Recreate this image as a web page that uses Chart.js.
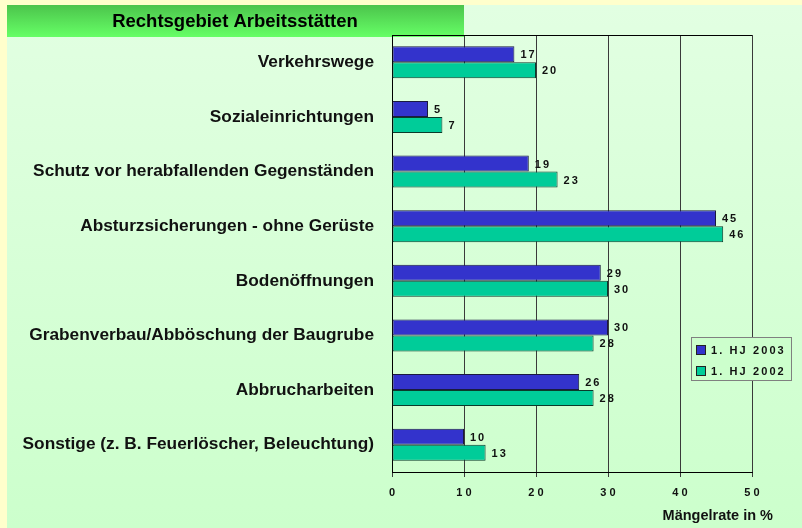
<!DOCTYPE html>
<html>
<head>
<meta charset="utf-8">
<script src="https://cdn.jsdelivr.net/npm/chart.js@4"></script>
<style>
  html, body { margin: 0; padding: 0; background: #ffffcc; }
  #wrap { width: 802px; height: 528px; }
</style>
</head>
<body>
<div id="wrap"><canvas id="barChart" width="802" height="528"></canvas></div>
<script>
var categories = [
    'Verkehrswege',
    'Sozialeinrichtungen',
    'Schutz vor herabfallenden Gegenständen',
    'Absturzsicherungen - ohne Gerüste',
    'Bodenöffnungen',
    'Grabenverbau/Abböschung der Baugrube',
    'Abbrucharbeiten',
    'Sonstige (z. B. Feuerlöscher, Beleuchtung)'
];
var hj2003 = [17, 5, 19, 45, 29, 30, 26, 10];
var hj2002 = [20, 7, 23, 46, 30, 28, 28, 13];
var seriesNames = ['1. HJ 2003', '1. HJ 2002'];
var titleText = 'Rechtsgebiet Arbeitsstätten';
var axisTitle = 'Mängelrate in %';

var FONT = '"Liberation Sans", Arial, sans-serif';

// draw text with spaced characters, like the old office chart
function spacedText(ctx, str, x, y, gap) {
    for (var i = 0; i < str.length; i++) {
        ctx.fillText(str[i], x, y);
        x += ctx.measureText(str[i]).width + gap;
    }
}

var backgroundPlugin = {
    id: 'panelBg',
    beforeDraw: function (chart) {
        var ctx = chart.ctx;
        ctx.save();
        ctx.fillStyle = '#ffffcc';
        ctx.fillRect(0, 0, 802, 528);
        var g = ctx.createLinearGradient(0, 5, 0, 528);
        g.addColorStop(0, '#e2ffe2');
        g.addColorStop(1, '#ccffcc');
        ctx.fillStyle = g;
        ctx.fillRect(7, 5, 795, 523);
        var t = ctx.createLinearGradient(0, 5, 0, 37);
        t.addColorStop(0, '#4cc44c');
        t.addColorStop(1, '#66ff66');
        ctx.fillStyle = t;
        ctx.fillRect(7, 5, 457, 32);
        ctx.fillStyle = '#000';
        ctx.font = 'bold 18.5px ' + FONT;
        ctx.textAlign = 'center';
        ctx.textBaseline = 'middle';
        ctx.fillText(titleText, 235, 22);
        ctx.restore();
    },
    afterDraw: function (chart) {
        var ctx = chart.ctx;
        var area = chart.chartArea;
        ctx.save();
        // top border of plot
        ctx.strokeStyle = '#000';
        ctx.lineWidth = 1;
        ctx.beginPath();
        ctx.moveTo(area.left, area.top + 0.5);
        ctx.lineTo(area.right, area.top + 0.5);
        ctx.stroke();

        // value labels
        ctx.font = 'bold 11px ' + FONT;
        ctx.fillStyle = '#111';
        ctx.textAlign = 'left';
        ctx.textBaseline = 'middle';
        chart.data.datasets.forEach(function (ds, di) {
            chart.getDatasetMeta(di).data.forEach(function (bar, i) {
                spacedText(ctx, String(ds.data[i]), bar.x + 6, bar.y + 1, 2);
            });
        });

        // axis title
        ctx.font = 'bold 14.5px ' + FONT;
        ctx.textAlign = 'right';
        ctx.fillText(axisTitle, 773, 516);

        // legend box
        var lx = 691, ly = 337;
        ctx.fillStyle = '#ccffcc';
        ctx.fillRect(lx, ly, 100, 43);
        ctx.strokeStyle = '#808080';
        ctx.strokeRect(lx + 0.5, ly + 0.5, 100, 43);
        ctx.font = 'bold 11px ' + FONT;
        ctx.textAlign = 'left';
        chart.data.datasets.forEach(function (ds, di) {
            var yy = ly + 13 + di * 21;
            ctx.fillStyle = ds.backgroundColor;
            ctx.fillRect(lx + 5, yy - 5, 10, 10);
            ctx.strokeStyle = '#222';
            ctx.strokeRect(lx + 5.5, yy - 4.5, 9, 9);
            ctx.fillStyle = '#111';
            spacedText(ctx, ds.label, lx + 20, yy + 1, 2.1);
        });
        ctx.restore();
    }
};

var ctx = document.getElementById('barChart').getContext('2d');
var myChart = new Chart(ctx, {
    type: 'bar',
    data: {
        labels: categories,
        datasets: [
            {
                label: seriesNames[0],
                data: hj2003,
                backgroundColor: '#3333cc',
                borderColor: '#1a1a40',
                borderWidth: 1,
                borderSkipped: false
            },
            {
                label: seriesNames[1],
                data: hj2002,
                backgroundColor: '#00cc99',
                borderColor: '#0a3a2a',
                borderWidth: 1,
                borderSkipped: false
            }
        ]
    },
    options: {
        indexAxis: 'y',
        responsive: false,
        animation: false,
        layout: { padding: { top: 35, right: 50, left: 0, bottom: 0 } },
        plugins: {
            legend: { display: false },
            tooltip: { enabled: false }
        },
        datasets: {
            bar: { categoryPercentage: 0.586, barPercentage: 1 }
        },
        scales: {
            x: {
                min: 0,
                max: 50,
                ticks: {
                    stepSize: 10,
                    padding: 9,
                    color: '#111',
                    font: { family: FONT, size: 11, weight: 'bold' },
                    callback: function (v) { return String(v).split('').join(' '); }
                },
                grid: { color: '#3a3a3a', tickLength: 5, drawTicks: true },
                border: { color: '#000' },
                afterFit: function (scale) { scale.height = 56; }
            },
            y: {
                ticks: {
                    padding: 18,
                    color: '#111',
                    font: { family: FONT, size: 17.3, weight: 'bold' }
                },
                grid: { display: false, drawTicks: false },
                border: { color: '#000' },
                afterFit: function (scale) { scale.width = 392; }
            }
        }
    },
    plugins: [backgroundPlugin]
});
</script>
</body>
</html>
